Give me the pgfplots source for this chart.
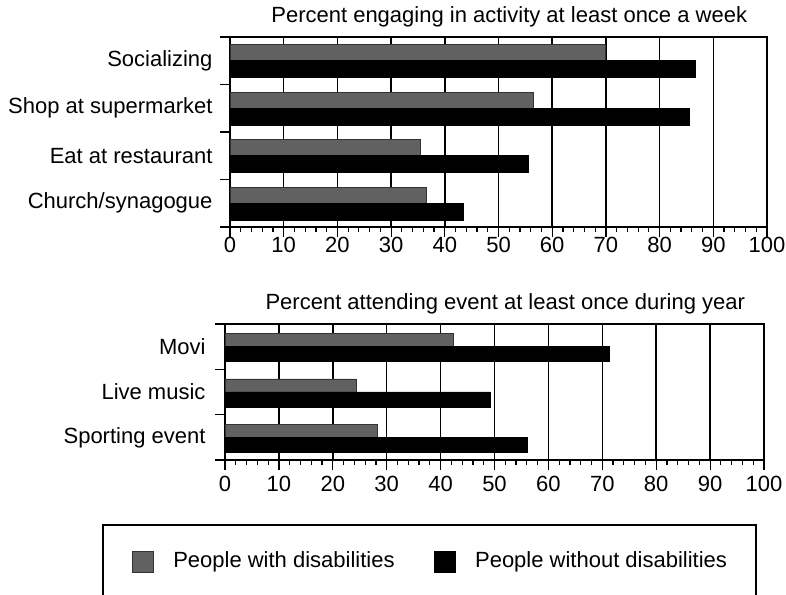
\documentclass[border=0pt]{standalone}
\usepackage{fontspec}
\setmainfont{Liberation Sans}
\usepackage{pgfplots}
\pgfplotsset{compat=1.18}

% shared look of both panels
\pgfplotsset{
  panel/.style={
    xbar, scale only axis, anchor=south west,
    xmin=0, xmax=100, xtick={0,10,...,100}, minor x tick num=4,
    tick pos=left, tick align=outside,
    major tick length=10bp, minor tick length=5bp,
    xmajorgrids, major grid style={black, line width=1.5bp},
    axis line style={line width=1.6bp},
    every tick/.style={black, line width=1.2bp},
    yticklabels={},
    extra y tick style={major tick length=0pt, grid=none, tick style={draw=none}},
    /pgf/number format/assume math mode=true,
    tick label style={font=\fontsize{22bp}{26bp}\selectfont},
    title style={font=\fontsize{22bp}{26bp}\selectfont, anchor=base,
      at={(axis description cs:0.52,1)}, yshift=9bp},
    xticklabel style={anchor=base},
  },
  withbar/.style={fill=black!62, draw=black!80, line width=0.5bp},
  withoutbar/.style={fill=black, draw=black, line width=0.5bp},
}

\begin{document}
\fontsize{22bp}{26bp}\selectfont
\begin{tikzpicture}
\useasboundingbox (0bp,0bp) rectangle (786bp,595bp);

% weekly activities
\begin{axis}[panel,
  at={(230bp,368bp)}, width=537bp, height=190bp,
  ymin=0.5, ymax=4.5, ytick={0.5,1.5,...,4.5},
  extra y ticks={1,2,3,4},
  extra y tick labels={Church/synagogue, Eat at restaurant, Shop at supermarket, Socializing},
  xticklabel style={yshift=-16bp},
  extra y tick style={yticklabel style={xshift=-10bp}},
  title={Percent engaging in activity at least once a week}]
\addplot[withbar, bar width=16bp, bar shift=8bp] coordinates {
  (36.5,1) (35.4,2) (56.5,3) (69.8,4)};
\addplot[withoutbar, bar width=17bp, bar shift=-8.5bp] coordinates {
  (43.4,1) (55.6,2) (85.6,3) (86.6,4)};
\end{axis}

% yearly events
\begin{axis}[panel,
  at={(225bp,135bp)}, width=539bp, height=136bp,
  ymin=0.5, ymax=3.5, ytick={0.5,1.5,...,3.5},
  extra y ticks={1,2,3},
  extra y tick labels={Sporting event, Live music, Movi},
  xticklabel style={yshift=-21bp},
  extra y tick style={yticklabel style={xshift=-12bp}},
  title={Percent attending event at least once during year},
  legend columns=2, legend cell align=left,
  legend image code/.code={\draw[#1] (0bp,-10.5bp) rectangle (21bp,10.5bp);},
  legend style={at={(axis description cs:-0.2282,-0.4706)}, anchor=north west,
    draw=black, line width=1.5bp, inner xsep=29bp, inner ysep=26bp,
    font=\fontsize{22bp}{26bp}\selectfont, nodes={inner sep=0pt},
    /tikz/every odd column/.style={column sep=20bp},
    /tikz/every even column/.style={column sep=39bp}}]
\addplot[withbar, bar width=13bp, bar shift=6.5bp] coordinates {
  (28.2,1) (24.3,2) (42.3,3)};
\addlegendentry{People with disabilities}
\addplot[withoutbar, bar width=15bp, bar shift=-7.5bp] coordinates {
  (56.1,1) (49.2,2) (71.3,3)};
\addlegendentry{People without disabilities}
\end{axis}
\end{tikzpicture}
\end{document}
